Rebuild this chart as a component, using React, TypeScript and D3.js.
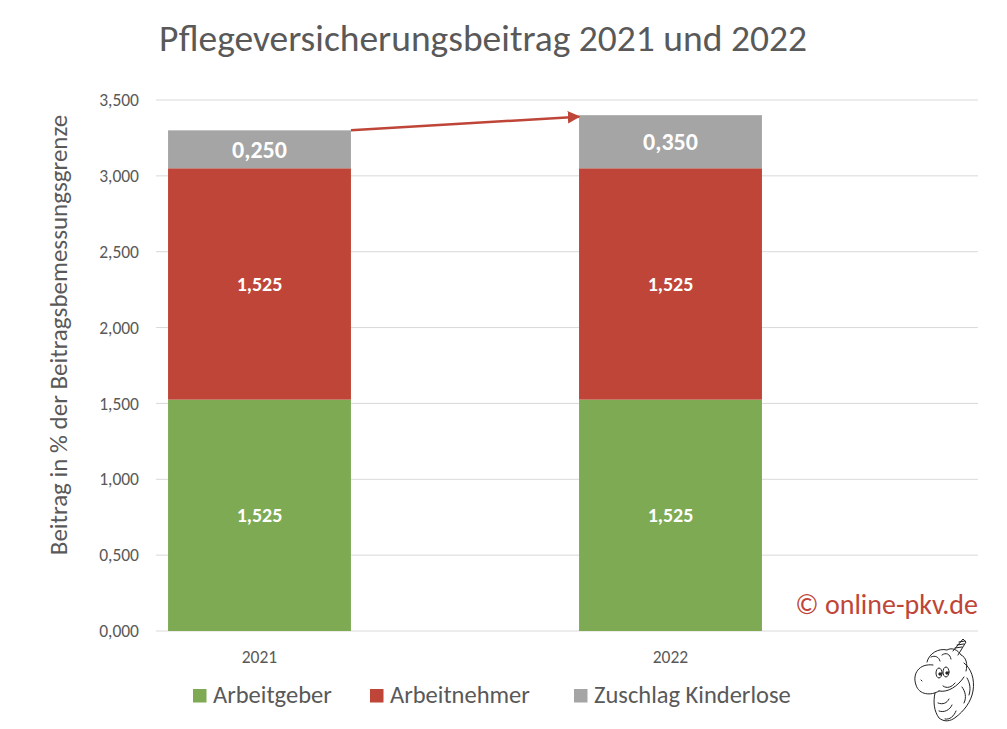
import React from "react";
import * as d3 from "d3";

const years = ["2021", "2022"];
const arbeitgeber = [1.525, 1.525];
const arbeitnehmer = [1.525, 1.525];
const zuschlag = [0.25, 0.35];
const seriesNames = ["Arbeitgeber", "Arbeitnehmer", "Zuschlag Kinderlose"];
const seriesColors = ["#7DAA53", "#BE4537", "#A5A5A5"];
const yTicks = [0, 0.5, 1, 1.5, 2, 2.5, 3, 3.5];
const labelSizes = [20, 20, 24];

const FONT = "Carlito, Calibri, Lato, sans-serif";
const TXT = "#595959";

export default function App() {
  const W = 1007, H = 729;
  const y = d3.scaleLinear().domain([0, 3.5]).range([631, 100]);
  const x = d3.scaleBand().domain(years).range([54, 876]).paddingInner(0.555).paddingOuter(0.2775);
  const bw = x.bandwidth();
  const data = years.map((yr, i) => ({ year: yr, a: arbeitgeber[i], b: arbeitnehmer[i], c: zuschlag[i] }));
  const stack = d3.stack<any>().keys(["a", "b", "c"])(data);
  const fmt = (v: number) => d3.format(".3f")(v).replace(".", ",");

  const ax1 = (x("2021") as number) + bw;
  const ax2 = x("2022") as number;
  const ay1 = y(3.3);
  const ay2 = y(3.39);

  const legendX = [193, 370, 574];

  return (
    <svg width={W} height={H} style={{ position: "absolute", left: 0, top: 0, background: "#fff" }} fontFamily={FONT}>
      <defs>
        <marker id="arr" viewBox="0 0 10 10" refX="9" refY="5" markerWidth="5" markerHeight="5" orient="auto">
          <path d="M0,0 L10,5 L0,10 z" fill="#BE4537" />
        </marker>
      </defs>
      <text x={483} y={51} textAnchor="middle" fontSize={37.5} fill={TXT}>
        Pflegeversicherungsbeitrag 2021 und 2022
      </text>
      {yTicks.map((t) => (
        <g key={t}>
          <line x1={156} x2={978} y1={y(t)} y2={y(t)} stroke="#D9D9D9" strokeWidth={1} />
          <text x={139} y={y(t)} dy="0.35em" textAnchor="end" fontSize={17.5} fill={TXT}>
            {fmt(t)}
          </text>
        </g>
      ))}
      <text transform={`translate(67,335) rotate(-90)`} textAnchor="middle" fontSize={25} fill={TXT}>
        Beitrag in % der Beitragsbemessungsgrenze
      </text>
      {stack.map((s, si) =>
        s.map((d, i) => (
          <g key={`${si}-${i}`}>
            <rect
              x={x(years[i]) as number}
              width={bw}
              y={y(d[1])}
              height={y(d[0]) - y(d[1])}
              fill={seriesColors[si]}
            />
            <text
              x={(x(years[i]) as number) + bw / 2}
              y={(y(d[0]) + y(d[1])) / 2}
              dy="0.35em"
              textAnchor="middle"
              fontSize={labelSizes[si]}
              fontWeight={600}
              fill="#fff"
            >
              {fmt(d[1] - d[0])}
            </text>
          </g>
        ))
      )}
      <line x1={ax1} y1={ay1} x2={ax2} y2={ay2} stroke="#BE4537" strokeWidth={2.5} markerEnd="url(#arr)" />
      {years.map((yr) => (
        <text key={yr} x={(x(yr) as number) + bw / 2} y={663} textAnchor="middle" fontSize={17.5} fill={TXT}>
          {yr}
        </text>
      ))}
      {seriesNames.map((n, i) => (
        <g key={n}>
          <rect x={legendX[i]} y={689} width={13.5} height={13.5} fill={seriesColors[i]} />
          <text x={legendX[i] + 20} y={703} fontSize={24.5} fill={TXT}>
            {n}
          </text>
        </g>
      ))}
      <text x={978} y={614} textAnchor="end" fontSize={28} fill="#BE4537">
        © online-pkv.de
      </text>
      <g fill="none" stroke="#222" strokeWidth={1} strokeLinecap="round" strokeLinejoin="round">
        <path d="M933,665 C919,663 912,674 916,685 C919,695 931,696 939,691" />
        <path d="M939,691 C948,693 958,686 964,677" />
        <path d="M927,662 C929,653 939,648 947,650 C952,647 958,650 961,655 C966,657 968,664 966,671" />
        <path d="M931,657 C935,655 939,657 940,661 M942,655 C946,652 950,654 951,659" />
        <path d="M953,651 L963,639 L966,642 L958,655" />
        <path d="M955,648 L962,647 M957,645 L964,644 M959,642 L965,641" />
        <ellipse cx={939} cy={673} rx={3} ry={5} />
        <ellipse cx={946} cy={672} rx={3} ry={5} />
        <circle cx={940} cy={674} r={1.2} fill="#222" />
        <circle cx={947} cy={673} r={1.2} fill="#222" />
        <path d="M921,680 L922,681" />
        <path d="M943,686 C947,689 952,687 955,683" />
        <path d="M964,663 C971,668 975,679 973,691 C971,702 964,711 956,717" />
        <path d="M935,693 C933,702 934,711 939,718 C944,722 950,722 956,717" />
        <path d="M938,703 C943,705 947,703 949,699 M939,711 C944,713 950,710 952,705 M945,719 C950,720 954,716 956,711" />
        <path d="M962,687 C965,691 967,697 964,703 M967,678 C970,683 971,689 969,695" />
      </g>
    </svg>
  );
}
